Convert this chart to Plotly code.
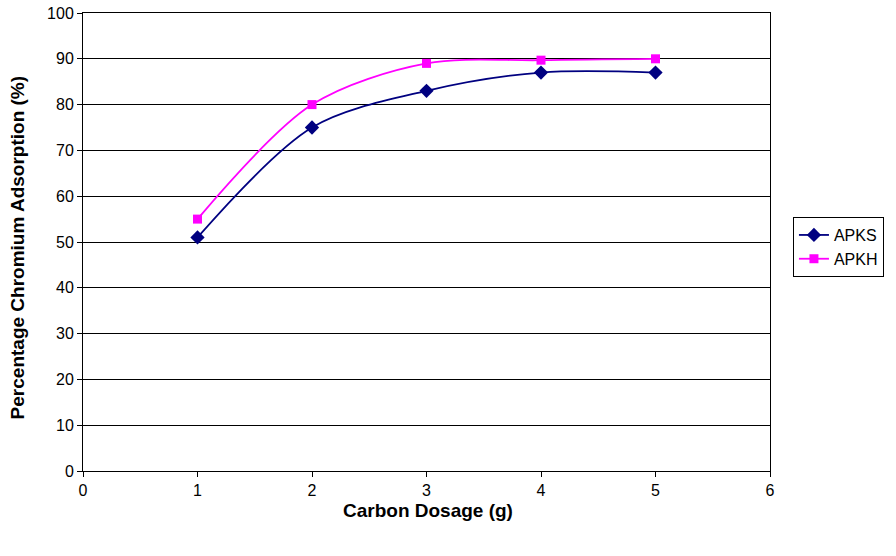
import plotly.graph_objects as go

dosage = [1, 2, 3, 4, 5]
apks = [51, 75, 83, 87, 87]
apkh = [55, 80, 89, 89.7, 90]

x_title = "Carbon Dosage (g)"
y_title = "Percentage Chromium Adsorption (%)"

fig = go.Figure()
fig.add_trace(go.Scatter(
    x=dosage, y=apks, name="APKS", mode="lines+markers",
    line=dict(color="#000080", width=1.8, shape="spline", smoothing=0.9),
    marker=dict(symbol="diamond", size=11, color="#000080"),
))
fig.add_trace(go.Scatter(
    x=dosage, y=apkh, name="APKH", mode="lines+markers",
    line=dict(color="#FF00FF", width=1.8, shape="spline", smoothing=0.9),
    marker=dict(symbol="square", size=9, color="#FF00FF"),
))

font_family = "Liberation Sans, Arial, sans-serif"
fig.update_layout(
    width=896, height=556,
    margin=dict(l=83, r=124, t=13, b=85),
    paper_bgcolor="white", plot_bgcolor="white",
    font=dict(family=font_family, size=16, color="black"),
    legend=dict(
        x=1.0334, y=0.489, xanchor="left", yanchor="middle",
        bordercolor="black", borderwidth=1, bgcolor="white",
        font=dict(size=16), itemwidth=30,
    ),
    showlegend=True,
    annotations=[
        dict(text="<b>" + x_title + "</b>", xref="paper", yref="paper",
             x=0.502, y=-0.087, xanchor="center", yanchor="middle",
             showarrow=False, font=dict(size=19)),
        dict(text="<b>" + y_title + "</b>", xref="paper", yref="paper",
             x=-0.094, y=0.487, xanchor="center", yanchor="middle",
             textangle=-90, showarrow=False, font=dict(size=19)),
    ],
)
fig.update_xaxes(
    range=[0, 6], tickmode="linear", dtick=1, tick0=0,
    showgrid=False, zeroline=False, automargin=False,
    showline=True, linecolor="black", linewidth=1, mirror=True,
    ticks="outside", ticklen=5, tickcolor="black",
)
fig.update_yaxes(
    range=[0, 100], tickmode="linear", dtick=10, tick0=0,
    showgrid=True, gridcolor="black", gridwidth=1, zeroline=False, automargin=False,
    showline=True, linecolor="black", linewidth=1, mirror=True,
    ticks="outside", ticklen=5, tickcolor="black",
)

fig.write_html(
    "out.html",
    config={"displayModeBar": False},
    post_script="document.body.style.margin='0';document.body.style.overflow='hidden';",
)
